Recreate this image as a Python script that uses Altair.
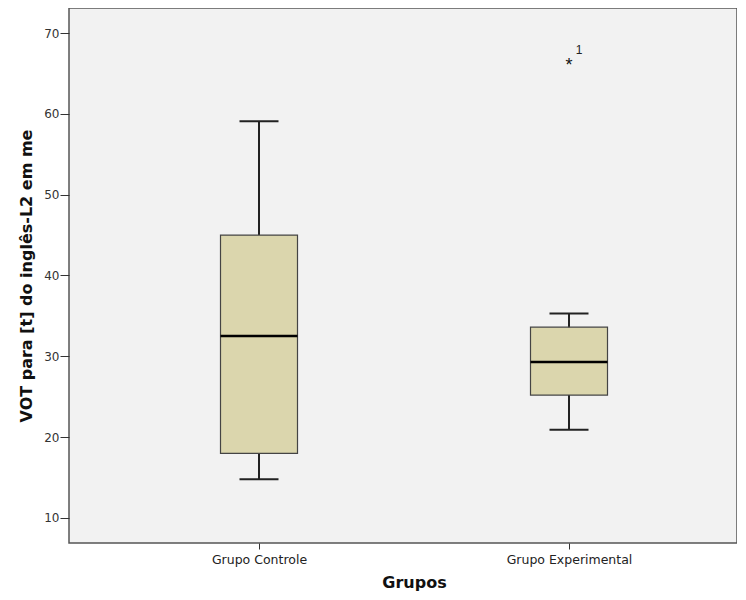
import altair as alt
import pandas as pd

groups = ["Grupo Controle", "Grupo Experimental"]
whisker_low = [14.8, 20.9]
q1 = [18.0, 25.2]
median = [32.5, 29.3]
q3 = [45.0, 33.6]
whisker_high = [59.1, 35.3]

outlier_group = ["Grupo Experimental"]
outlier_value = [66.4]
outlier_label = ["1"]

box = pd.DataFrame({"group": groups, "lo": whisker_low, "q1": q1,
                    "med": median, "q3": q3, "hi": whisker_high})
out = pd.DataFrame({"group": outlier_group, "v": outlier_value,
                    "lab": outlier_label})

xenc = alt.X("group:N", title="Grupos", sort=groups,
             scale=alt.Scale(type="point", range=[190, 500], padding=0),
             axis=alt.Axis(labelAngle=0, domain=False, tickSize=6,
                           tickColor="#333", tickWidth=1, labelFontSize=12.5,
                           labelColor="#222", labelPadding=4,
                           titleFontSize=16, titleFontWeight="bold",
                           titlePadding=9, titleColor="#111"))
yscale = alt.Scale(domain=[6.9, 73.1], nice=False, zero=False)
yaxis = alt.Axis(values=[10, 20, 30, 40, 50, 60, 70], domain=False, grid=False,
                 tickSize=9, tickColor="#333", labelFontSize=12,
                 labelColor="#333", labelPadding=1,
                 title="VOT para [t] do inglês-L2 em me", titleFontSize=16,
                 titleFontWeight="bold", titleColor="#111", titlePadding=9)

base = alt.Chart(box)

whisk = base.mark_rule(color="#222", strokeWidth=2).encode(
    x=xenc, y=alt.Y("lo:Q", scale=yscale, axis=yaxis), y2="hi:Q")
bars = base.mark_bar(size=77, fill="#dbd6ad", stroke="#444",
                     strokeWidth=1.2, opacity=1).encode(
    x=xenc, y=alt.Y("q1:Q", scale=yscale), y2="q3:Q")
med = base.mark_tick(size=77, thickness=2.5, color="#000", opacity=1,
                     orient="horizontal").encode(
    x=xenc, y=alt.Y("med:Q", scale=yscale))
caplo = base.mark_tick(size=39, thickness=2, color="#222", opacity=1,
                       orient="horizontal").encode(
    x=xenc, y=alt.Y("lo:Q", scale=yscale))
caphi = base.mark_tick(size=39, thickness=2, color="#222", opacity=1,
                       orient="horizontal").encode(
    x=xenc, y=alt.Y("hi:Q", scale=yscale))

star = alt.Chart(out).mark_text(text="*", fontSize=18, color="#111",
                                baseline="middle", dy=4).encode(
    x=xenc, y=alt.Y("v:Q", scale=yscale))
lab = alt.Chart(out).mark_text(fontSize=12, color="#222", dx=10, dy=-12,
                               baseline="middle").encode(
    x=xenc, y=alt.Y("v:Q", scale=yscale), text="lab:N")

chart = alt.layer(whisk, bars, med, caplo, caphi, star, lab).properties(
    width=668, height=535, autosize="none",
    padding={"left": 61, "top": 0, "right": 0, "bottom": 48},
    background="white"
).configure_view(fill="#f2f2f2", stroke="#555", strokeWidth=1.5
).configure_axis(labelFont="DejaVu Sans", titleFont="DejaVu Sans")

chart.save("out.html", embed_options={"renderer": "svg", "actions": False})
